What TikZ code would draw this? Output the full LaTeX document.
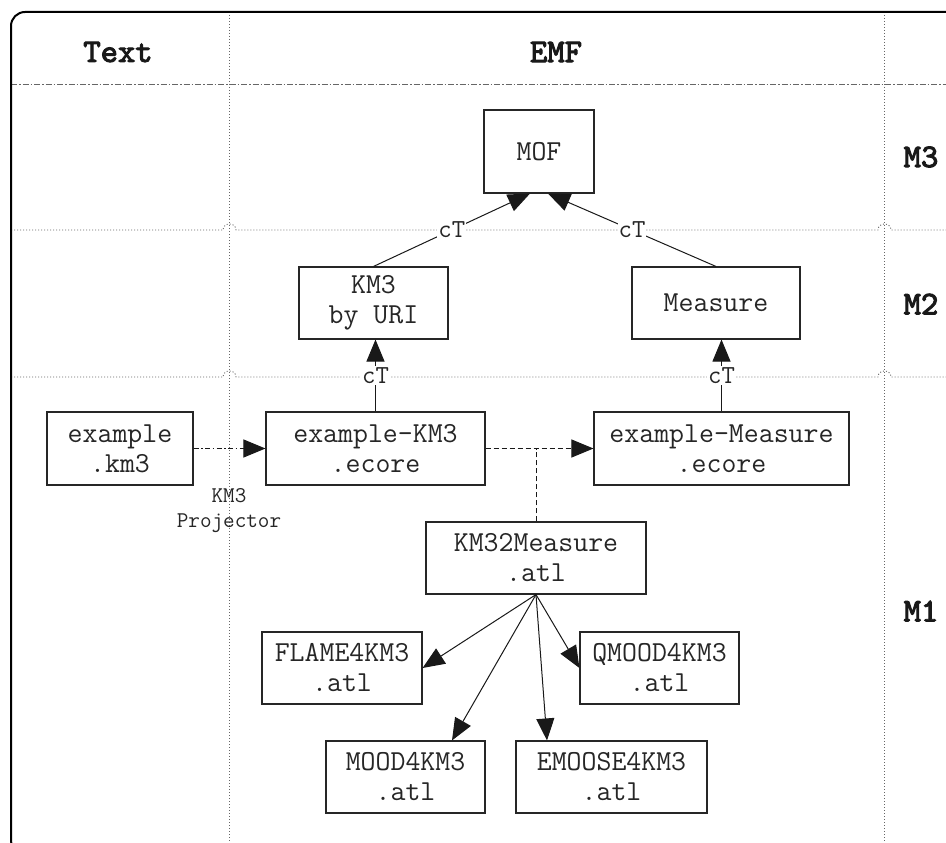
\documentclass[tikz,border=0pt]{standalone}
\usepackage{fontspec}
\newfontfamily\hdrfont{lmmono10-regular.otf}[FakeBold=3]
\usetikzlibrary{arrows.meta,calc}
\begin{document}
\begin{tikzpicture}[x=1pt,y=-1pt,
  box/.style={draw=black!85, line width=1.1pt, align=center, inner sep=0pt,
    font=\ttfamily\fontsize{29}{30}\selectfont, text=black!85},
  hdr/.style={font=\hdrfont\fontsize{33}{36}\selectfont, text=black!90},
  lbl/.style={font=\ttfamily\fontsize{26}{28}\selectfont, fill=white, inner sep=1pt, text=black!85},
  small/.style={font=\ttfamily\fontsize{22.5}{25}\selectfont, align=center, text=black!85},
  tip/.style={-{Triangle[length=22pt,width=18pt]}},
  conn/.style={draw=black!90, line width=1pt},
  gridline/.style={draw=black!60, line width=0.9pt, dash pattern=on 1pt off 2pt},
  headline/.style={draw=black!60, line width=0.9pt, dash pattern=on 6pt off 2pt on 1.5pt off 2pt}]
\useasboundingbox (0,0) rectangle (946,843);
\clip (0,0) rectangle (946,843);
\fill[white] (0,0) rectangle (946,843);

% grid
\draw[gridline] (229,12) -- (229,843);
\draw[gridline] (884,12) -- (884,843);
\draw[headline] (11,84) -- (946,84);
\draw[gridline] (11,230) -- (223,230) .. controls (223,222) and (236,222) .. (236,230)
  -- (878,230) .. controls (878,222) and (891,222) .. (891,230) -- (946,230);
\draw[gridline] (11,377) -- (223,377) .. controls (223,369) and (236,369) .. (236,377)
  -- (878,377) .. controls (878,369) and (891,369) .. (891,377) -- (946,377);

% frame
\draw[line width=2pt, rounded corners=14pt] (11,12) rectangle (975,854);

% headers
\node[hdr] (htext) at (118,52) {Text};
\node[hdr] (hemf) at (556,52) {EMF};
\node[hdr] (hm3) at (921,157) {M3};
\node[hdr] (hm2) at (921,304) {M2};
\node[hdr] (hm1) at (921,611) {M1};

% nodes
\node[box, minimum width=110pt, minimum height=83pt] (mof) at (539,151.5) {MOF};
\node[box, minimum width=149pt, minimum height=72pt] (km3) at (373.5,303) {KM3\\by URI};
\node[box, minimum width=168pt, minimum height=72pt] (measure) at (716,303) {Measure};
\node[box, minimum width=146pt, minimum height=73pt] (exkm3) at (120,448.5) {example\\.km3};
\node[box, minimum width=219pt, minimum height=73pt] (exkm3e) at (375.5,448.5) {example-KM3\\.ecore};
\node[box, minimum width=255pt, minimum height=73pt] (exme) at (721.5,448.5) {example-Measure\\.ecore};
\node[box, minimum width=220pt, minimum height=72pt] (km32m) at (536,558) {KM32Measure\\.atl};
\node[box, minimum width=160pt, minimum height=72pt] (flame) at (342,668) {FLAME4KM3\\.atl};
\node[box, minimum width=159pt, minimum height=72pt] (qmood) at (659.5,668) {QMOOD4KM3\\.atl};
\node[box, minimum width=159pt, minimum height=72pt] (mood) at (405.5,777) {MOOD4KM3\\.atl};
\node[box, minimum width=191pt, minimum height=72pt] (emoose) at (611.5,777) {EMOOSE4KM3\\.atl};

% conformance arrows
\draw[conn, tip] (km3.north) -- node[lbl] {cT} ([xshift=-9pt]mof.south);
\draw[conn, tip] (measure.north) -- node[lbl] {cT} ([xshift=9pt]mof.south);
\draw[conn, tip] (exkm3e.north) -- node[lbl] {cT} (exkm3e.north |- km3.south);
\draw[conn, tip] (exme.north) -- node[lbl] {cT} (exme.north |- measure.south);

% projector
\draw[conn, tip, dash pattern=on 5pt off 2.5pt on 1.5pt off 2.5pt] (exkm3.east) -- (exkm3e.west);
\node[small] (proj) at (229,511) {KM3\\Projector};

% transformation
\coordinate (tj) at (km32m.north |- exkm3e.east);
\draw[conn, tip, dash pattern=on 5pt off 3pt] (exkm3e.east) -- (exme.west);
\draw[conn, dash pattern=on 5pt off 3pt] (km32m.north) -- (tj);

% tree
\draw[conn, tip] (km32m.south) -- (flame.east);
\draw[conn, tip] (km32m.south) -- (qmood.west);
\draw[conn, tip] (km32m.south) -- ([xshift=46.5pt]mood.north);
\draw[conn, tip] (km32m.south) -- ([xshift=-64.5pt]emoose.north);
\end{tikzpicture}
\end{document}
